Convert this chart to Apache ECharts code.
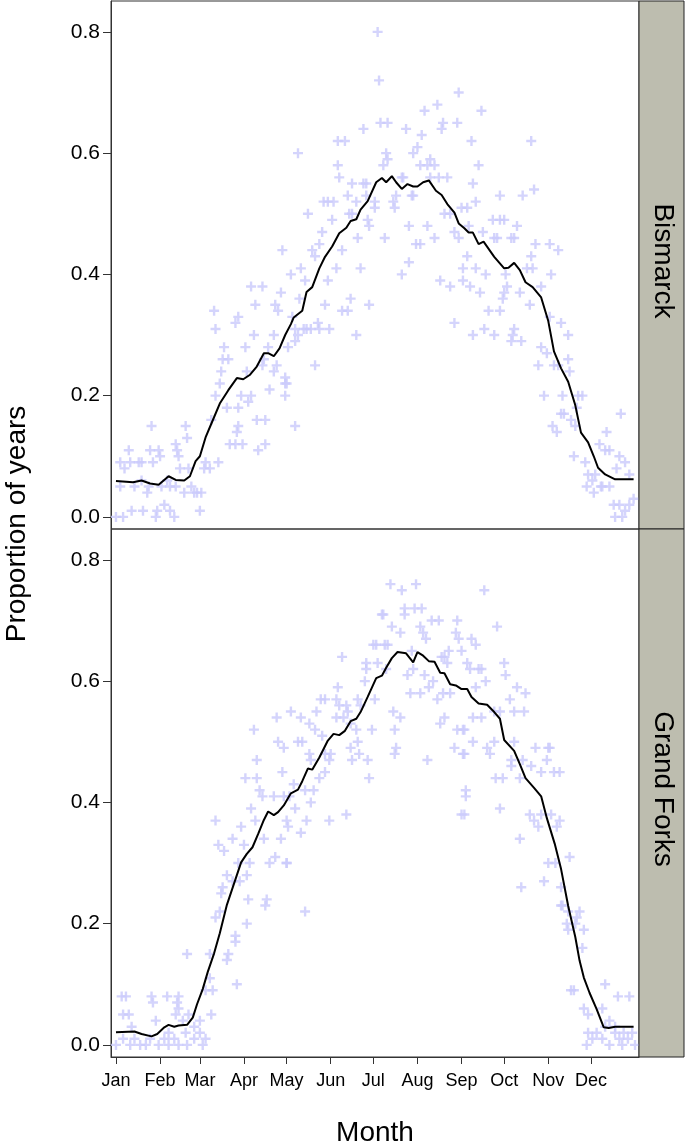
<!DOCTYPE html>
<html>
<head>
<meta charset="utf-8">
<title>Proportion of years by month</title>
<script src="https://cdn.jsdelivr.net/npm/echarts@6.0.0/dist/echarts.min.js"></script>
<style>
  html, body { margin: 0; padding: 0; background: #fff; }
  #chart { width: 685px; height: 1147px; }
</style>
</head>
<body>
<div id="chart"></div>
<script>
// x = day of year (0 = Jan 1)
var monthNames = ["Jan", "Feb", "Mar", "Apr", "May", "Jun", "Jul", "Aug", "Sep", "Oct", "Nov", "Dec"];
var monthStarts = [0, 31, 59, 90, 120, 151, 181, 212, 243, 273, 304, 334];
var yTicks = [0, 0.2, 0.4, 0.6, 0.8];
var panelNames = ["Bismarck", "Grand Forks"];

// yearly proportions: [day, proportion]
var bismarckPts = [
    [0,0.00],[5,0.00],[11,0.01],[19,0.01],[28,0.00],[29,0.01],[34,0.02],[38,0.01],[41,0.00],[59,0.01],
    [3,0.05],[13,0.05],[18,0.06],[22,0.04],[23,0.05],[32,0.05],[36,0.06],[38,0.05],[42,0.05],[48,0.04],
    [53,0.05],[55,0.04],[57,0.04],[60,0.04],[3,0.09],[6,0.08],[9,0.11],[10,0.09],[16,0.09],[18,0.09],
    [24,0.11],[26,0.09],[30,0.11],[31,0.10],[43,0.11],[44,0.10],[45,0.08],[51,0.08],[62,0.08],[63,0.09],
    [66,0.08],[72,0.09],[25,0.15],[42,0.12],[49,0.15],[50,0.13],[67,0.16],[70,0.20],[78,0.18],[80,0.12],
    [84,0.12],[85,0.14],[86,0.15],[89,0.12],[86,0.18],[88,0.20],[93,0.19],[95,0.20],[99,0.16],[100,0.11],
    [105,0.16],[105,0.12],[108,0.21],[119,0.20],[119,0.22],[111,0.24],[113,0.25],[103,0.25],[104,0.26],[92,0.24],
    [73,0.22],[74,0.24],[75,0.26],[79,0.26],[76,0.28],[91,0.28],[97,0.30],[70,0.31],[69,0.34],[84,0.32],
    [86,0.33],[95,0.38],[103,0.38],[98,0.35],[116,0.37],[112,0.35],[114,0.34],[111,0.30],[107,0.28],[117,0.44],
    [184,0.80],[185,0.72],[128,0.60],[156,0.62],[161,0.62],[174,0.64],[186,0.65],[191,0.65],[204,0.64],[215,0.63],
    [217,0.67],[226,0.68],[241,0.70],[230,0.65],[229,0.64],[240,0.65],[212,0.61],[209,0.60],[190,0.60],[191,0.59],
    [188,0.58],[156,0.58],[157,0.56],[166,0.55],[174,0.55],[176,0.55],[201,0.56],[202,0.56],[214,0.58],[219,0.58],
    [221,0.59],[224,0.58],[221,0.56],[227,0.56],[233,0.56],[149,0.52],[153,0.52],[146,0.52],[163,0.53],[169,0.52],
    [176,0.53],[182,0.52],[182,0.51],[195,0.52],[197,0.53],[208,0.53],[209,0.53],[243,0.51],[135,0.50],[164,0.50],
    [166,0.50],[152,0.49],[145,0.47],[177,0.49],[178,0.48],[196,0.51],[206,0.48],[219,0.48],[231,0.50],[235,0.50],
    [238,0.47],[241,0.46],[143,0.45],[138,0.44],[140,0.43],[159,0.44],[170,0.46],[189,0.46],[211,0.45],[214,0.45],
    [224,0.46],[123,0.40],[130,0.41],[133,0.39],[155,0.41],[172,0.41],[149,0.39],[201,0.40],[206,0.42],[228,0.39],
    [235,0.38],[244,0.39],[129,0.36],[147,0.35],[165,0.36],[159,0.34],[163,0.34],[178,0.35],[124,0.33],[126,0.31],
    [128,0.30],[132,0.31],[134,0.31],[137,0.31],[142,0.32],[143,0.31],[150,0.31],[121,0.28],[126,0.29],[169,0.30],
    [140,0.25],[119,0.23],[120,0.22],[126,0.15],[238,0.32],
    [257,0.67],[250,0.62],[292,0.62],[255,0.58],[251,0.55],[270,0.53],[286,0.53],[294,0.54],[247,0.51],[253,0.52],
    [265,0.49],[270,0.49],[273,0.49],[282,0.48],[248,0.48],[258,0.47],[266,0.46],[268,0.46],[278,0.46],[280,0.46],
    [292,0.43],[295,0.45],[305,0.45],[311,0.44],[247,0.43],[244,0.41],[253,0.41],[260,0.40],[274,0.40],[289,0.41],
    [293,0.41],[306,0.40],[249,0.38],[256,0.37],[275,0.38],[273,0.37],[272,0.36],[284,0.37],[299,0.38],[291,0.35],
    [270,0.34],[262,0.34],[305,0.33],[259,0.31],[251,0.30],[266,0.30],[279,0.30],[280,0.31],[278,0.29],[285,0.29],
    [313,0.32],[318,0.30],[299,0.28],[303,0.27],[297,0.25],[308,0.25],[318,0.26],[319,0.24],[311,0.25],[301,0.20],
    [314,0.20],[328,0.20],[325,0.20],[324,0.18],[315,0.17],[313,0.17],[307,0.15],[310,0.14],[320,0.16],[323,0.15],
    [355,0.17],[345,0.14],[340,0.12],[344,0.11],[347,0.11],[322,0.10],[330,0.09],[354,0.10],[358,0.09],[352,0.08],
    [361,0.07],[332,0.07],[337,0.07],[335,0.06],[341,0.05],[331,0.05],[336,0.04],[347,0.05],[342,0.05],[350,0.02],
    [354,0.02],[364,0.03],[358,0.01],[356,0.00],[351,0.00],[361,0.02]
];

var grandForksPts = [
    [0,0.00],[5,0.01],[10,0.00],[13,0.01],[17,0.00],[21,0.00],[24,0.01],[30,0.00],[34,0.01],[37,0.00],
    [41,0.01],[44,0.00],[49,0.02],[50,0.00],[55,0.01],[59,0.02],[61,0.00],[63,0.01],[11,0.03],[28,0.04],
    [37,0.02],[42,0.05],[47,0.04],[55,0.03],[59,0.04],[51,0.05],[44,0.06],[67,0.05],[4,0.08],[7,0.08],
    [5,0.05],[9,0.05],[25,0.08],[26,0.07],[36,0.08],[44,0.08],[43,0.07],[50,0.15],[63,0.09],[68,0.09],
    [66,0.15],[66,0.11],[85,0.10],[70,0.21],[73,0.22],[79,0.15],[78,0.14],[84,0.17],[84,0.18],[92,0.20],
    [93,0.24],[105,0.23],[106,0.24],[74,0.25],[75,0.26],[78,0.28],[82,0.27],[87,0.27],[92,0.28],[94,0.30],
    [86,0.30],[72,0.33],[76,0.32],[82,0.34],[90,0.33],[88,0.36],[98,0.37],[95,0.39],[104,0.34],[108,0.30],
    [112,0.31],[116,0.34],[120,0.30],[70,0.37],[103,0.41],[101,0.42],[111,0.41],[118,0.41],[99,0.44],[91,0.44],
    [99,0.47],[97,0.52],[117,0.45],[118,0.49],[114,0.50],[113,0.54],
    [193,0.76],[201,0.75],[211,0.76],[203,0.72],[210,0.72],[215,0.72],[187,0.71],[188,0.71],[194,0.69],[200,0.68],
    [203,0.71],[214,0.69],[216,0.68],[218,0.67],[222,0.70],[227,0.70],[240,0.70],[239,0.68],[241,0.67],[183,0.66],
    [181,0.66],[189,0.66],[191,0.66],[208,0.65],[234,0.65],[243,0.65],[159,0.64],[176,0.63],[176,0.62],[184,0.63],
    [190,0.62],[209,0.62],[217,0.61],[223,0.60],[229,0.64],[233,0.63],[231,0.64],[205,0.61],[207,0.58],[214,0.58],
    [220,0.59],[226,0.57],[230,0.58],[235,0.58],[156,0.59],[175,0.60],[182,0.57],[147,0.57],[144,0.57],[155,0.57],
    [157,0.56],[162,0.56],[170,0.57],[172,0.56],[123,0.55],[130,0.54],[136,0.53],[141,0.55],[155,0.54],[160,0.54],
    [163,0.55],[165,0.53],[195,0.55],[200,0.54],[196,0.52],[231,0.54],[228,0.53],[240,0.52],[245,0.52],[238,0.49],
    [140,0.52],[128,0.50],[131,0.50],[145,0.51],[147,0.48],[169,0.52],[170,0.50],[180,0.52],[136,0.48],[137,0.47],
    [151,0.48],[150,0.47],[165,0.49],[166,0.47],[171,0.48],[177,0.47],[197,0.49],[196,0.48],[219,0.47],[245,0.48],
    [143,0.44],[147,0.45],[125,0.43],[139,0.42],[178,0.44],[122,0.41],[126,0.39],[137,0.40],[133,0.42],[150,0.37],
    [162,0.38],[120,0.37],[121,0.36],[130,0.35],[134,0.37],[120,0.30],[133,0.22],[245,0.38],[246,0.42],
    [259,0.75],[268,0.69],[250,0.67],[253,0.66],[247,0.63],[249,0.62],[255,0.62],[257,0.62],[273,0.63],[274,0.61],
    [253,0.59],[260,0.60],[282,0.59],[288,0.58],[277,0.57],[251,0.54],[257,0.54],[270,0.55],[266,0.55],[280,0.55],
    [287,0.55],[244,0.52],[251,0.50],[266,0.50],[280,0.50],[261,0.49],[263,0.48],[244,0.48],[295,0.49],[304,0.49],
    [305,0.49],[278,0.47],[278,0.46],[286,0.47],[292,0.46],[299,0.45],[303,0.47],[308,0.45],[312,0.45],[267,0.44],
    [272,0.44],[284,0.44],[246,0.41],[243,0.38],[270,0.39],[291,0.38],[294,0.37],[297,0.36],[299,0.38],[306,0.38],
    [312,0.37],[310,0.36],[284,0.34],[319,0.31],[304,0.30],[309,0.30],[285,0.26],[301,0.27],[313,0.26],[314,0.23],
    [313,0.23],[318,0.22],[326,0.22],[324,0.21],[329,0.19],[317,0.20],[323,0.20],[318,0.19],[328,0.16],[320,0.09],
    [322,0.09],[344,0.10],[353,0.08],[361,0.08],[329,0.06],[332,0.05],[342,0.06],[347,0.04],[351,0.03],[331,0.00],
    [335,0.01],[338,0.02],[342,0.01],[347,0.00],[351,0.02],[354,0.01],[357,0.02],[360,0.01],[363,0.02],[365,0.00],
    [344,0.03],[356,0.00],[332,0.02]
];

// smoothed curve: [day, proportion]
var bismarckLine = [
    [0,0.059],[12,0.057],[18,0.060],[24,0.055],[30,0.053],[37,0.067],[42,0.061],[48,0.060],[52,0.067],[56,0.092],
    [59,0.100],[63,0.131],[68,0.159],[73,0.187],[79,0.209],[85,0.229],[89.5,0.227],[94,0.234],[99,0.248],[104,0.270],
    [107,0.270],[111,0.265],[115,0.278],[119,0.300],[123,0.318],[125,0.329],[131,0.340],[134,0.371],[138,0.379],[143,0.410],
    [147,0.429],[152,0.446],[157,0.468],[162,0.477],[165,0.488],[169,0.491],[172,0.507],[177,0.521],[183,0.552],[187,0.559],
    [190,0.552],[194,0.562],[197,0.552],[201,0.541],[205,0.549],[209,0.545],[212,0.545],[216,0.552],[220,0.555],[225,0.538],
    [229,0.531],[233,0.516],[238,0.502],[241,0.484],[245,0.476],[248,0.469],[251,0.469],[255,0.450],[258.5,0.454],[266,0.429],
    [273,0.410],[276,0.411],[280,0.419],[284,0.407],[288,0.387],[293,0.379],[299,0.362],[304,0.323],[308,0.273],[313,0.245],
    [318,0.223],[323,0.184],[327,0.139],[332,0.123],[336,0.100],[339,0.081],[344,0.070],[351,0.062],[364,0.062]
];

var grandForksLine = [
    [0,0.021],[13,0.022],[18,0.018],[25,0.014],[29,0.018],[34,0.029],[37,0.033],[41,0.030],[44,0.032],[50,0.033],
    [54,0.045],[57,0.067],[61,0.092],[64.5,0.120],[69,0.151],[73,0.184],[78,0.231],[82,0.259],[88,0.301],[92,0.315],
    [96,0.326],[100,0.348],[104,0.371],[107,0.385],[111,0.379],[114,0.384],[118,0.395],[123,0.415],[128,0.421],[131,0.435],
    [135,0.456],[138,0.454],[143,0.474],[149,0.502],[153,0.513],[157,0.511],[161,0.518],[165,0.534],[169,0.538],[172,0.549],
    [177,0.574],[183,0.605],[187,0.609],[190,0.622],[194,0.638],[198,0.648],[204,0.646],[209,0.631],[212,0.648],[216,0.642],
    [220,0.633],[224,0.632],[228,0.614],[231,0.613],[235,0.595],[239,0.593],[243,0.587],[247,0.587],[250,0.574],[255,0.563],
    [261,0.561],[266,0.549],[270,0.538],[273,0.503],[280,0.485],[284,0.463],[288,0.440],[294,0.424],[299,0.410],[303,0.374],
    [308.5,0.332],[313,0.290],[318,0.229],[323,0.178],[326,0.139],[329,0.111],[333,0.086],[338,0.059],[343,0.029],[346.5,0.028],
    [351,0.030],[364,0.030]
];

var FONT = "'Liberation Sans', Arial, sans-serif";
var PLUS = "path://M3.8,0H6.2V3.8H10V6.2H6.2V10H3.8V6.2H0V3.8H3.8Z";

var left = 111, plotW = 528, panelH = 528, top0 = 1;
var stripW = 45;

function makeX(idx, withLabels) {
    return {
        type: "value",
        gridIndex: idx,
        min: -3.5,
        max: 367.8,
        splitLine: { show: false },
        axisLine: { show: withLabels, onZero: false, lineStyle: { color: "#333", width: 1 } },
        axisTick: {
            show: withLabels,
            customValues: monthStarts,
            length: 7,
            lineStyle: { color: "#333", width: 1 }
        },
        axisLabel: {
            show: withLabels,
            customValues: monthStarts,
            margin: 15,
            color: "#000",
            fontFamily: FONT,
            fontSize: 18,
            formatter: function (v) {
                var i = monthStarts.indexOf(v);
                return i >= 0 ? monthNames[i] : "";
            }
        }
    };
}

function makeY(idx) {
    return {
        type: "value",
        gridIndex: idx,
        min: -0.02,
        max: 0.851,
        splitLine: { show: false },
        axisLine: { show: true, onZero: false, lineStyle: { color: "#333", width: 1 } },
        axisTick: {
            customValues: yTicks,
            length: 8,
            lineStyle: { color: "#333", width: 1 }
        },
        axisLabel: {
            customValues: yTicks,
            margin: 11,
            color: "#000",
            fontFamily: FONT,
            fontSize: 21,
            formatter: function (v) { return v.toFixed(1); }
        }
    };
}

function scatterSeries(idx, pts) {
    return {
        type: "scatter",
        xAxisIndex: idx,
        yAxisIndex: idx,
        data: pts,
        symbol: PLUS,
        symbolSize: 10,
        itemStyle: { color: "#c9c9fb" },
        silent: true,
        z: 2
    };
}

function lineSeries(idx, pts) {
    return {
        type: "line",
        xAxisIndex: idx,
        yAxisIndex: idx,
        data: pts,
        showSymbol: false,
        symbol: "none",
        lineStyle: { color: "#000", width: 2 },
        silent: true,
        z: 3
    };
}

function strip(i) {
    var y = top0 + i * panelH;
    return [{
        type: "rect",
        shape: { x: left + plotW, y: y, width: stripW, height: panelH },
        style: { fill: "#bdbdaf", stroke: "#222", lineWidth: 1 },
        z: 10
    }, {
        type: "text",
        x: left + plotW + stripW / 2 + 1,
        y: y + panelH / 2 - 4,
        rotation: -Math.PI / 2,
        style: {
            text: panelNames[i],
            fill: "#000",
            font: "28px " + FONT,
            align: "center",
            verticalAlign: "middle"
        },
        z: 11
    }];
}

var myChart = echarts.init(document.getElementById("chart"), null, { renderer: "canvas" });

var option = {
    animation: false,
    backgroundColor: "#fff",
    grid: [
        { left: left, top: top0, width: plotW, height: panelH, show: true, borderColor: "#333", borderWidth: 1, backgroundColor: "transparent" },
        { left: left, top: top0 + panelH, width: plotW, height: panelH, show: true, borderColor: "#333", borderWidth: 1, backgroundColor: "transparent" }
    ],
    xAxis: [makeX(0, false), makeX(1, true)],
    yAxis: [makeY(0), makeY(1)],
    series: [
        scatterSeries(0, bismarckPts),
        lineSeries(0, bismarckLine),
        scatterSeries(1, grandForksPts),
        lineSeries(1, grandForksLine)
    ],
    graphic: strip(0).concat(strip(1)).concat([{
        type: "text",
        x: 17,
        y: 524,
        rotation: Math.PI / 2,
        style: {
            text: "Proportion of years",
            fill: "#000",
            font: "28px " + FONT,
            align: "center",
            verticalAlign: "middle"
        }
    }, {
        type: "text",
        x: left + plotW / 2,
        y: 1133,
        style: {
            text: "Month",
            fill: "#000",
            font: "28px " + FONT,
            align: "center",
            verticalAlign: "middle"
        }
    }])
};

myChart.setOption(option);
</script>
</body>
</html>
